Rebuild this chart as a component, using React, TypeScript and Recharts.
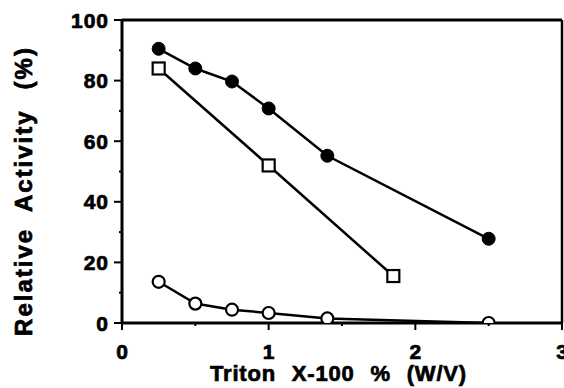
import React from 'react';
import { LineChart, Line, XAxis, YAxis, ReferenceLine } from 'recharts';

// Series: x = Triton X-100 % (W/V), y = Relative Activity (%)
const filledX = [0.25, 0.5, 0.75, 1.0, 1.4, 2.5];
const filledY = [90.5, 84, 79.7, 70.8, 55.2, 27.8];
const squareX = [0.25, 1.0, 1.85];
const squareY = [84, 52, 15.5];
const openX = [0.25, 0.5, 0.75, 1.0, 1.4, 2.5];
const openY = [13.6, 6.4, 4.4, 3.3, 1.5, 0];

const xTicks = [0, 0.5, 1, 1.5, 2, 2.5, 3];
const xMajor = [0, 1, 2, 3];
const yTicks = [0, 10, 20, 30, 40, 50, 60, 70, 80, 90, 100];
const yMajor = [0, 20, 40, 60, 80, 100];

const xTitle = 'Triton X-100 % (W/V)';
const yTitleMain = 'Relative Activity';
const yTitleUnit = '(%)';

const toPoints = (xs: number[], ys: number[]) => xs.map((x, i) => ({ x, y: ys[i] }));
const filledData = toPoints(filledX, filledY);
const squareData = toPoints(squareX, squareY);
const openData = toPoints(openX, openY);

const FONT = '"Liberation Sans", Arial, Helvetica, sans-serif';
const HEAVY = { stroke: '#000', strokeWidth: 0.7, paintOrder: 'stroke' as const };

const YTick = (props: any) => {
  const { x, y, payload } = props;
  const v = payload.value;
  const major = yMajor.includes(v);
  return (
    <g>
      <line x1={x - (major ? 8 : 3)} x2={x} y1={y} y2={y} stroke="#000" strokeWidth={2} />
      {major && (
        <text x={x - 13} y={y} dy="0.36em" textAnchor="end" fontFamily={FONT} fontWeight="bold" fontSize={21} letterSpacing={1} fill="#000" {...HEAVY}>
          {v}
        </text>
      )}
    </g>
  );
};

const XTick = (props: any) => {
  const { x, y, payload } = props;
  const v = payload.value;
  const major = xMajor.includes(v);
  return (
    <g>
      <line x1={x} x2={x} y1={y} y2={y + (major ? 7 : 3)} stroke="#000" strokeWidth={2} />
      {major && (
        <text x={x} y={y + 28} dy="0.36em" textAnchor="middle" fontFamily={FONT} fontWeight="bold" fontSize={21} fill="#000" {...HEAVY}>
          {v}
        </text>
      )}
    </g>
  );
};

const SquareDot = (props: any) => {
  const { cx, cy, index } = props;
  if (cx == null || cy == null) return <g key={`sq-${index}`} />;
  return <rect key={`sq-${index}`} x={cx - 6} y={cy - 6} width={12} height={12} fill="#fff" stroke="#000" strokeWidth={2.2} />;
};

const YTitle = () => (
  <text transform="translate(31.5,191) rotate(-90)" textAnchor="middle" fontFamily={FONT} fontWeight="bold" fontSize={24} letterSpacing={2} wordSpacing={8} fill="#000" {...HEAVY}>
    <tspan>{yTitleMain}</tspan>
    <tspan dx={20}>{yTitleUnit}</tspan>
  </text>
);

const XTitle = () => (
  <text x={338.5} y={381} textAnchor="middle" fontFamily={FONT} fontWeight="bold" fontSize={22} letterSpacing={0.8} wordSpacing={9} fill="#000" {...HEAVY}>
    {xTitle}
  </text>
);

export default function App() {
  return (
    <div style={{ position: 'absolute', left: 0, top: 0, width: 564, height: 388, background: '#fff' }}>
      <LineChart width={564} height={388} margin={{ top: 20, right: 2, bottom: 0, left: 0 }}>
        <XAxis
          type="number"
          dataKey="x"
          domain={[0, 3]}
          ticks={xTicks}
          interval={0}
          height={65}
          tickSize={0}
          tickMargin={0}
          tickLine={false}
          axisLine={{ stroke: '#000', strokeWidth: 3 }}
          tick={<XTick />}
          label={{ content: () => <XTitle /> }}
          allowDataOverflow
        />
        <YAxis
          type="number"
          domain={[0, 100]}
          ticks={yTicks}
          interval={0}
          width={122}
          tickSize={0}
          tickMargin={0}
          tickLine={false}
          axisLine={{ stroke: '#000', strokeWidth: 3 }}
          tick={<YTick />}
          label={{ content: () => <YTitle /> }}
          allowDataOverflow
        />
        <ReferenceLine y={100} stroke="#000" strokeWidth={3} ifOverflow="visible" />
        <ReferenceLine x={3} stroke="#000" strokeWidth={2.5} ifOverflow="visible" />
        <Line
          data={filledData}
          dataKey="y"
          type="linear"
          stroke="#000"
          strokeWidth={2.5}
          dot={{ r: 6.5, fill: '#000', stroke: '#000', strokeWidth: 1 }}
          isAnimationActive={false}
        />
        <Line
          data={squareData}
          dataKey="y"
          type="linear"
          stroke="#000"
          strokeWidth={2.5}
          dot={<SquareDot />}
          isAnimationActive={false}
        />
        <Line
          data={openData}
          dataKey="y"
          type="linear"
          stroke="#000"
          strokeWidth={2.5}
          dot={{ r: 6, fill: '#fff', stroke: '#000', strokeWidth: 2.2 }}
          isAnimationActive={false}
        />
      </LineChart>
    </div>
  );
}
